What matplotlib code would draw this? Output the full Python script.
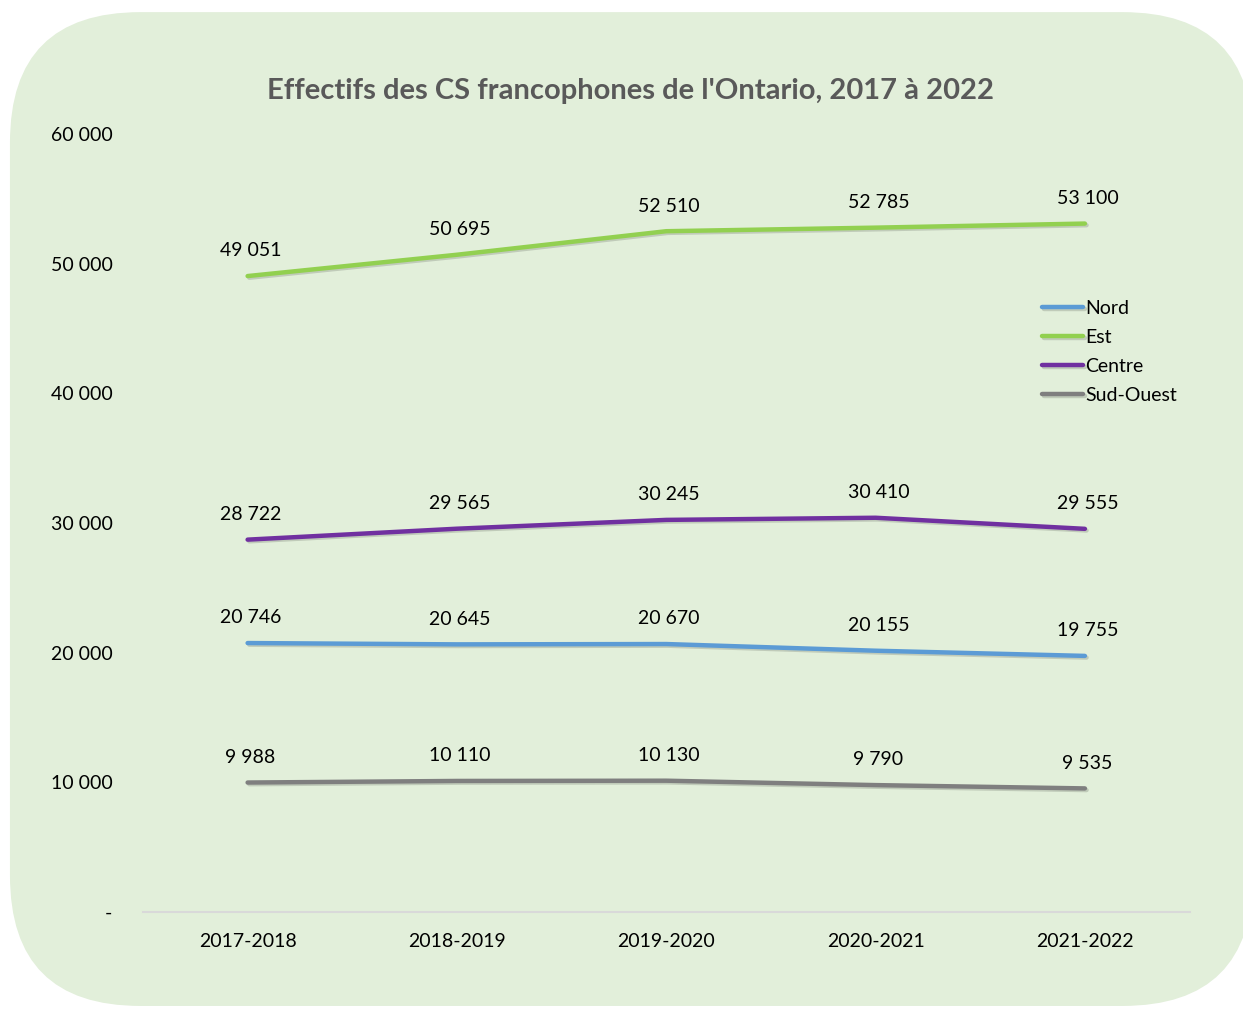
import matplotlib.pyplot as plt
import matplotlib.patheffects as pe
from matplotlib.patches import FancyBboxPatch

years = ['2017-2018', '2018-2019', '2019-2020', '2020-2021', '2021-2022']
nord = [20746, 20645, 20670, 20155, 19755]
est = [49051, 50695, 52510, 52785, 53100]
centre = [28722, 29565, 30245, 30410, 29555]
sud_ouest = [9988, 10110, 10130, 9790, 9535]

series = [('Nord', nord, '#5B9BD5'),
          ('Est', est, '#92D050'),
          ('Centre', centre, '#7030A0'),
          ('Sud-Ouest', sud_ouest, '#7F7F7F')]

plt.rcParams['font.family'] = ['Lato', 'DejaVu Sans']

fig = plt.figure(figsize=(12.43, 10.09), dpi=100)
fig.patch.set_facecolor('white')

# rounded green background
bg = FancyBboxPatch((0.008, 0.003), 1.0, 0.985,
                    boxstyle='round,pad=0,rounding_size=0.105',
                    transform=fig.transFigure, facecolor='#E2EFDA', edgecolor='none',
                    mutation_aspect=1243 / 1009, zorder=-10)
fig.patches.append(bg)

ax = fig.add_axes([0.115, 0.0961, 0.842, 0.771])
ax.set_facecolor('none')

x = list(range(len(years)))
shadow = [pe.SimpleLineShadow(offset=(1.2, -1.2), alpha=0.15), pe.Normal()]
for name, vals, color in series:
    ax.plot(x, vals, color=color, lw=3.2, label=name, solid_capstyle='round',
            path_effects=shadow)
    for xi, v in zip(x, vals):
        ax.annotate(f'{v:,}'.replace(',', ' '), (xi, v), xytext=(2, 12),
                    textcoords='offset points', ha='center', va='bottom',
                    fontsize=14, color='#000000')

ax.set_xlim(-0.5, 4.5)
ax.set_ylim(0, 60000)
ax.set_xticks(x)
ax.set_xticklabels(years, fontsize=14)
yt = [0, 10000, 20000, 30000, 40000, 50000, 60000]
ax.set_yticks(yt)
ax.set_yticklabels(['-'] + [f'{v:,}'.replace(',', ' ') for v in yt[1:]], fontsize=14)
ax.tick_params(axis='both', length=0)
ax.tick_params(axis='y', pad=22)
ax.tick_params(axis='x', pad=15)

for s in ['top', 'right', 'left']:
    ax.spines[s].set_visible(False)
ax.spines['bottom'].set_color('#D9D9D9')
ax.spines['bottom'].set_linewidth(1.5)

fig.text(0.507, 0.91, "Effectifs des CS francophones de l'Ontario, 2017 à 2022",
         ha='center', va='center', fontsize=21, fontweight='bold', color='#595959')

leg = ax.legend(loc='upper left', bbox_to_anchor=(0.852, 0.797), frameon=False,
                fontsize=14, handlelength=2.1, handletextpad=0.12, labelspacing=0.62,
                borderaxespad=0)

fig.savefig('out.png', dpi=100)
